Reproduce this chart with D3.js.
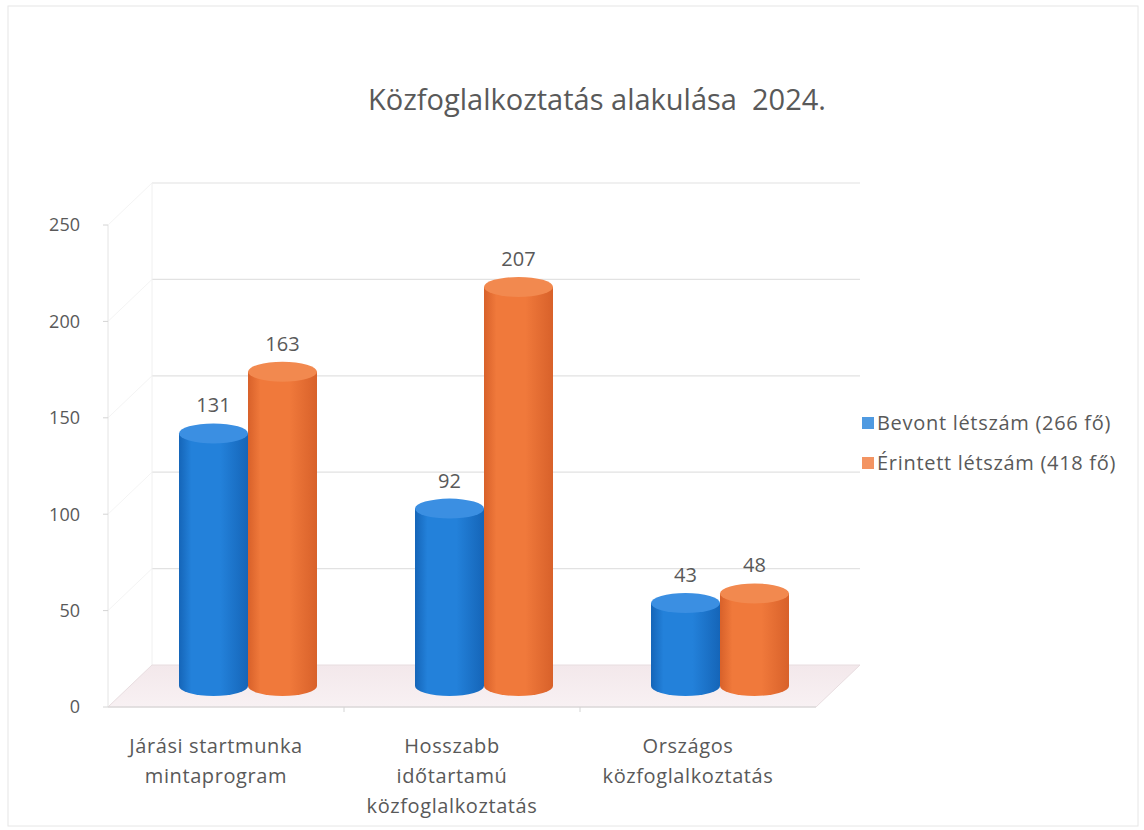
<!DOCTYPE html>
<meta charset="utf-8" />
<head>
  <script src="https://d3js.org/d3.v7.min.js"></script>
  <style>
    body { margin: 0; background: #fff; }
    text { font-family: "Open Sans", "DejaVu Sans", sans-serif; white-space: pre; }
  </style>
</head>
<body>
  <div id="my_data"></div>
</body>
<script>
  // data
  var categories = [
    ["Járási startmunka", "mintaprogram"],
    ["Hosszabb", "időtartamú", "közfoglalkoztatás"],
    ["Országos", "közfoglalkoztatás"]
  ];
  var seriesNames = ["Bevont létszám (266 fő)", "Érintett létszám (418 fő)"];
  var bevont = [131, 92, 43];
  var erintett = [163, 207, 48];
  var yTicks = [0, 50, 100, 150, 200, 250];

  var colors = ["#2381da", "#f0793b"];
  var tops = ["#3b8fe2", "#f2894f"];
  var darks = ["#1565b8", "#d8612a"];

  var W = 1144, H = 830;
  var svg = d3.select("#my_data").append("svg")
    .attr("width", W).attr("height", H);

  // faint scan frame
  svg.append("rect").attr("x", 8).attr("y", 6).attr("width", W - 14).attr("height", H - 10)
    .attr("fill", "none").attr("stroke", "#e6e6e6").attr("stroke-width", 1);

  // 3d depth offsets
  var depthX = 44, depthY = -42;

  var y = d3.scaleLinear().domain([0, 250]).range([707, 225]);
  var x = d3.scaleBand().domain(d3.range(categories.length)).range([108, 816]);

  // back wall gridlines
  var grid = svg.append("g");
  yTicks.forEach(function (t) {
    if (t === 0) return;
    grid.append("line")
      .attr("x1", x.range()[0] + depthX).attr("x2", x.range()[1] + depthX)
      .attr("y1", y(t) + depthY).attr("y2", y(t) + depthY)
      .attr("stroke", "#e2e2e2").attr("stroke-width", 1.2);
    // side wall
    grid.append("line")
      .attr("x1", x.range()[0]).attr("x2", x.range()[0] + depthX)
      .attr("y1", y(t)).attr("y2", y(t) + depthY)
      .attr("stroke", "#f4f4f4").attr("stroke-width", 1);
  });
  grid.append("line")
    .attr("x1", x.range()[0] + depthX).attr("x2", x.range()[0] + depthX)
    .attr("y1", y(0) + depthY).attr("y2", y(250) + depthY)
    .attr("stroke", "#f0f0f0");

  // floor
  var defs = svg.append("defs");
  var fg = defs.append("linearGradient").attr("id", "floor")
    .attr("x1", 0).attr("y1", 0).attr("x2", 0).attr("y2", 1);
  fg.append("stop").attr("offset", "0%").attr("stop-color", "#f3e8eb");
  fg.append("stop").attr("offset", "100%").attr("stop-color", "#f8f1f3");
  var x0 = x.range()[0], x1 = x.range()[1];
  svg.append("path")
    .attr("d", "M" + x0 + "," + y(0) + "L" + (x0 + depthX) + "," + (y(0) + depthY) +
      "L" + (x1 + depthX) + "," + (y(0) + depthY) + "L" + x1 + "," + y(0) + "Z")
    .attr("fill", "url(#floor)").attr("stroke", "#e8dde0");

  // front axis
  svg.append("line").attr("x1", x0).attr("x2", x0)
    .attr("y1", y(0)).attr("y2", y(250)).attr("stroke", "#e4e4e4");
  svg.append("line").attr("x1", x0).attr("x2", x1)
    .attr("y1", y(0)).attr("y2", y(0)).attr("stroke", "#d4d4d4");
  yTicks.forEach(function (t) {
    svg.append("line").attr("x1", x0 - 5).attr("x2", x0)
      .attr("y1", y(t)).attr("y2", y(t)).attr("stroke", "#d4d4d4");
    svg.append("text").attr("x", 80).attr("y", y(t)).attr("dy", "0.35em")
      .attr("text-anchor", "end").attr("font-size", 18).attr("fill", "#595959")
      .text(t);
  });
  x.domain().forEach(function (i) {
    var xx = x(i) + x.bandwidth();
    if (i < categories.length - 1)
      svg.append("line").attr("x1", xx).attr("x2", xx)
        .attr("y1", y(0)).attr("y2", y(0) + 5).attr("stroke", "#d4d4d4");
  });

  // cylinder gradients
  colors.forEach(function (c, s) {
    var g = defs.append("linearGradient").attr("id", "cyl" + s);
    g.append("stop").attr("offset", "0%").attr("stop-color", darks[s]);
    g.append("stop").attr("offset", "18%").attr("stop-color", c);
    g.append("stop").attr("offset", "60%").attr("stop-color", c);
    g.append("stop").attr("offset", "100%").attr("stop-color", darks[s]);
  });

  // cylinders, placed at mid depth
  var bw = 69, ry = 10;
  var midX = depthX / 2, midY = depthY / 2;
  var allSeries = [bevont, erintett];
  var bars = svg.append("g");
  categories.forEach(function (cat, i) {
    var c = x(i) + x.bandwidth() / 2 + midX;
    allSeries.forEach(function (vals, s) {
      var left = c - bw + s * bw, right = left + bw, cx = (left + right) / 2;
      var top = y(vals[i]) + midY, bot = y(0) + midY;
      bars.append("path")
        .attr("d", "M" + left + "," + top + "L" + left + "," + bot +
          "A" + (bw / 2) + "," + ry + " 0 0 0 " + right + "," + bot +
          "L" + right + "," + top + "Z")
        .attr("fill", "url(#cyl" + s + ")");
      bars.append("ellipse").attr("cx", cx).attr("cy", top)
        .attr("rx", bw / 2).attr("ry", ry).attr("fill", tops[s]);
      bars.append("text").attr("x", cx).attr("y", top - ry - 11)
        .attr("text-anchor", "middle").attr("font-size", 20).attr("fill", "#595959")
        .text(vals[i]);
    });
  });

  // category labels
  categories.forEach(function (cat, i) {
    var t = svg.append("text").attr("text-anchor", "middle")
      .attr("font-size", 20).attr("letter-spacing", 0.6).attr("fill", "#595959");
    cat.forEach(function (line, k) {
      t.append("tspan").attr("x", x(i) + x.bandwidth() / 2 - 10)
        .attr("y", 753 + k * 30).text(line);
    });
  });

  // title
  svg.append("text").attr("x", 597).attr("y", 110)
    .attr("text-anchor", "middle").attr("font-size", 29).attr("fill", "#595959")
    .text("Közfoglalkoztatás alakulása  2024.");

  // legend
  var legend = svg.append("g");
  seriesNames.forEach(function (n, s) {
    legend.append("rect").attr("x", 862).attr("y", 417 + s * 40)
      .attr("width", 12).attr("height", 12).attr("fill", colors[s]).attr("opacity", 0.8);
    legend.append("text").attr("x", 877).attr("y", 423 + s * 40).attr("dy", "0.35em")
      .attr("font-size", 20).attr("letter-spacing", 0.7).attr("fill", "#595959").text(n);
  });
</script>
